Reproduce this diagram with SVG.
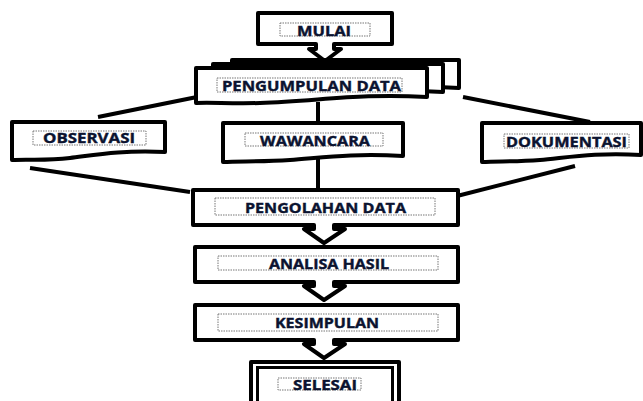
<svg xmlns="http://www.w3.org/2000/svg" width="643" height="401" viewBox="0 0 643 401">
<style>
.box{fill:#fff;stroke:#000;stroke-width:4;stroke-linejoin:round}
.ln{fill:none;stroke:#000;stroke-width:4}
.lbl{fill:none;stroke:#777;stroke-width:1;stroke-dasharray:1.5,1}
.t{font-family:"Open Sans","Liberation Sans",sans-serif;font-weight:bold;font-size:14px;fill:#0b1330;stroke:#0b1330;stroke-width:0.4;text-anchor:middle}
</style>
<rect width="643" height="401" fill="#fff"/>
<g id="connectors">
<line class="ln" x1="197" y1="97" x2="98" y2="117"/>
<line class="ln" x1="463" y1="97" x2="590" y2="122"/>
<line class="ln" x1="318" y1="102" x2="318" y2="124"/>
<line class="ln" x1="318" y1="158" x2="318" y2="191"/>
<line class="ln" x1="30" y1="168" x2="190" y2="192"/>
<line class="ln" x1="575" y1="166" x2="457" y2="196"/>
</g>
<g id="mulai">
<path class="box" d="M258,13 H392 V44 H334 V49 H341 L325,61 L309,49 H316 V44 H258 Z"/>
<rect class="lbl" x="280" y="23" width="90" height="13"/>
<text class="t" x="324" y="35.5" textLength="54" lengthAdjust="spacingAndGlyphs">MULAI</text>
</g>
<g id="pengumpulan">
<path class="box" d="M232,60 H459 V88 C400,84 360,92 300,95 C270,96 250,94 232,96 Z"/>
<path class="box" d="M213,64 H443 V92 C380,88 340,96 280,99 C250,100 230,98 213,100 Z"/>
<path class="box" d="M196,68 H427 V97 C360,93 320,101 260,103 C230,104 212,102 196,103 Z"/>
<rect class="lbl" x="217" y="78" width="185" height="14"/>
<text class="t" x="311.5" y="91" textLength="179" lengthAdjust="spacingAndGlyphs">PENGUMPULAN DATA</text>
</g>
<g id="observasi">
<path class="box" d="M12,122 H165 V152 C120,150 95,155 70,158 C45,161 28,159 12,160 Z"/>
<rect class="lbl" x="33" y="131" width="113" height="14"/>
<text class="t" x="89" y="143" textLength="92" lengthAdjust="spacingAndGlyphs">OBSERVASI</text>
</g>
<g id="wawancara">
<path class="box" d="M223,123 H403 V156 C350,153 320,158 290,160 C260,162 240,161 223,162 Z"/>
<rect class="lbl" x="245" y="133" width="138" height="13"/>
<text class="t" x="315" y="146" textLength="110" lengthAdjust="spacingAndGlyphs">WAWANCARA</text>
</g>
<g id="dokumentasi">
<path class="box" d="M482,123 H641 V155 C595,152 565,158 540,160 C515,162 498,161 482,162 Z"/>
<rect class="lbl" x="504" y="134" width="125" height="14"/>
<text class="t" x="566.5" y="147" textLength="121" lengthAdjust="spacingAndGlyphs">DOKUMENTASI</text>
</g>
<g id="pengolahan">
<path class="box" d="M193,190 H458 V225 H334 V229 H345 L324,243 L304,229 H314 V225 H193 Z"/>
<rect class="lbl" x="215" y="198" width="220" height="17"/>
<text class="t" x="325.5" y="213" textLength="161" lengthAdjust="spacingAndGlyphs">PENGOLAHAN DATA</text>
</g>
<g id="analisa">
<path class="box" d="M195,247 H458 V282 H334 V286 H345 L324,300 L304,286 H314 V282 H195 Z"/>
<rect class="lbl" x="218" y="256" width="220" height="14"/>
<text class="t" x="329" y="269" textLength="120" lengthAdjust="spacingAndGlyphs">ANALISA HASIL</text>
</g>
<g id="kesimpulan">
<path class="box" d="M195,305 H458 V340 H334 V344 H345 L324,358 L304,344 H314 V340 H195 Z"/>
<rect class="lbl" x="218" y="314" width="220" height="17"/>
<text class="t" x="327" y="328" textLength="104" lengthAdjust="spacingAndGlyphs">KESIMPULAN</text>
</g>
<g id="selesai">
<rect class="box" x="251" y="362" width="148" height="50"/>
<rect x="257.5" y="367.5" width="135" height="45" fill="none" stroke="#000" stroke-width="3"/>
<rect class="lbl" x="278" y="378" width="83" height="12"/>
<text class="t" x="325" y="390" textLength="64" lengthAdjust="spacingAndGlyphs">SELESAI</text>
</g>
</svg>
